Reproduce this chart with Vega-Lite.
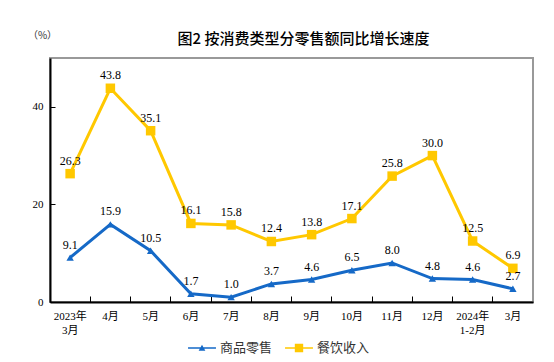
{
  "$schema": "https://vega.github.io/schema/vega-lite/v6.json",
  "width": 483,
  "height": 244,
  "autosize": "none",
  "padding": {"left": 50, "top": 58, "right": 21, "bottom": 60},
  "background": "white",
  "config": {
    "view": {"stroke": "#999999", "strokeWidth": 2},
    "font": "Liberation Serif, Noto Sans CJK SC"
  },
  "title": {
    "text": "图2  按消费类型分零售额同比增长速度",
    "font": "Noto Sans CJK SC",
    "fontSize": 15,
    "fontWeight": 500,
    "color": "#000000",
    "anchor": "middle",
    "dx": 12,
    "offset": -17
  },
  "data": {
    "values": [
      {"month": "2023年|3月", "series": "商品零售", "value": 9.1},
      {"month": "4月", "series": "商品零售", "value": 15.9},
      {"month": "5月", "series": "商品零售", "value": 10.5},
      {"month": "6月", "series": "商品零售", "value": 1.7},
      {"month": "7月", "series": "商品零售", "value": 1.0},
      {"month": "8月", "series": "商品零售", "value": 3.7},
      {"month": "9月", "series": "商品零售", "value": 4.6},
      {"month": "10月", "series": "商品零售", "value": 6.5},
      {"month": "11月", "series": "商品零售", "value": 8.0},
      {"month": "12月", "series": "商品零售", "value": 4.8},
      {"month": "2024年|1-2月", "series": "商品零售", "value": 4.6},
      {"month": "3月", "series": "商品零售", "value": 2.7},
      {"month": "2023年|3月", "series": "餐饮收入", "value": 26.3},
      {"month": "4月", "series": "餐饮收入", "value": 43.8},
      {"month": "5月", "series": "餐饮收入", "value": 35.1},
      {"month": "6月", "series": "餐饮收入", "value": 16.1},
      {"month": "7月", "series": "餐饮收入", "value": 15.8},
      {"month": "8月", "series": "餐饮收入", "value": 12.4},
      {"month": "9月", "series": "餐饮收入", "value": 13.8},
      {"month": "10月", "series": "餐饮收入", "value": 17.1},
      {"month": "11月", "series": "餐饮收入", "value": 25.8},
      {"month": "12月", "series": "餐饮收入", "value": 30.0},
      {"month": "2024年|1-2月", "series": "餐饮收入", "value": 12.5},
      {"month": "3月", "series": "餐饮收入", "value": 6.9}
    ]
  },
  "encoding": {
    "x": {
      "field": "month",
      "type": "nominal",
      "sort": null,
      "bandPosition": 0.5,
      "scale": {"type": "band", "paddingInner": 0, "paddingOuter": 0},
      "axis": {
        "title": null,
        "labelAngle": 0,
        "labelExpr": "split(datum.label, '|')",
        "bandPosition": 0,
        "tickSize": -6,
        "tickColor": "#000000",
        "tickWidth": 1,
        "domainColor": "#000000",
        "domainWidth": 2,
        "labelColor": "#000000",
        "labelFontSize": 11,
        "labelFont": "Liberation Serif, Noto Sans CJK SC",
        "labelPadding": 14,
        "labelLineHeight": 14,
        "labelBaseline": "top",
        "encode": {"ticks": {"update": {"y2": {"value": -6}, "stroke": {"value": "#000000"}}}}
      }
    },
    "y": {
      "field": "value",
      "type": "quantitative",
      "scale": {"domain": [0, 50]},
      "axis": {
        "values": [0, 20, 40],
        "grid": false,
        "title": "（%）",
        "titleAngle": 0,
        "titleX": -8,
        "titleY": -18,
        "titleAlign": "center",
        "titleFont": "Noto Sans CJK SC",
        "titleFontSize": 10,
        "titleFontWeight": "normal",
        "titleColor": "#333333",
        "tickSize": -5,
        "tickColor": "#000000",
        "domainColor": "#000000",
        "domainWidth": 2,
        "labelColor": "#000000",
        "labelFontSize": 11,
        "labelPadding": 12,
        "encode": {"ticks": {"update": {"x2": {"value": 5}, "stroke": {"value": "#000000"}}}}
      }
    },
    "color": {
      "field": "series",
      "type": "nominal",
      "scale": {"domain": ["商品零售", "餐饮收入"], "range": ["#1569C7", "#FFC800"]},
      "legend": {
        "orient": "none",
        "legendX": 138,
        "legendY": 276,
        "direction": "horizontal",
        "title": null,
        "symbolSize": 780,
        "symbolStrokeWidth": 0,
        "labelFont": "Noto Sans CJK SC",
        "labelFontSize": 13,
        "labelColor": "#333333",
        "columnPadding": 12,
        "labelOffset": 4,
        "encode": {
          "symbols": {
            "update": {
              "shape": {"signal": "datum.value === '商品零售' ? 'M-1,-0.055L1,-0.055L1,0.055L-1,0.055ZM-0.24,0.2L0,-0.24L0.24,0.2Z' : 'M-1,-0.055L1,-0.055L1,0.055L-1,0.055ZM-0.3,-0.3L0.3,-0.3L0.3,0.3L-0.3,0.3Z'"},
              "fill": {"signal": "scale('color', datum.value)"},
              "fillOpacity": {"value": 1},
              "opacity": {"value": 1}
            }
          }
        }
      }
    }
  },
  "layer": [
    {"mark": {"type": "line", "strokeWidth": 3}},
    {
      "transform": [{"filter": "datum.series === '商品零售'"}],
      "mark": {"type": "point", "filled": true, "opacity": 1, "shape": "triangle-up", "size": 55}
    },
    {
      "transform": [{"filter": "datum.series === '餐饮收入'"}],
      "mark": {"type": "point", "filled": true, "opacity": 1, "shape": "square", "size": 90}
    },
    {
      "mark": {"type": "text", "dy": -13, "fontSize": 12, "font": "Liberation Serif", "color": "#000000"},
      "encoding": {
        "text": {"field": "value", "type": "quantitative", "format": ".1f"},
        "color": {"value": "#000000"}
      }
    }
  ]
}
